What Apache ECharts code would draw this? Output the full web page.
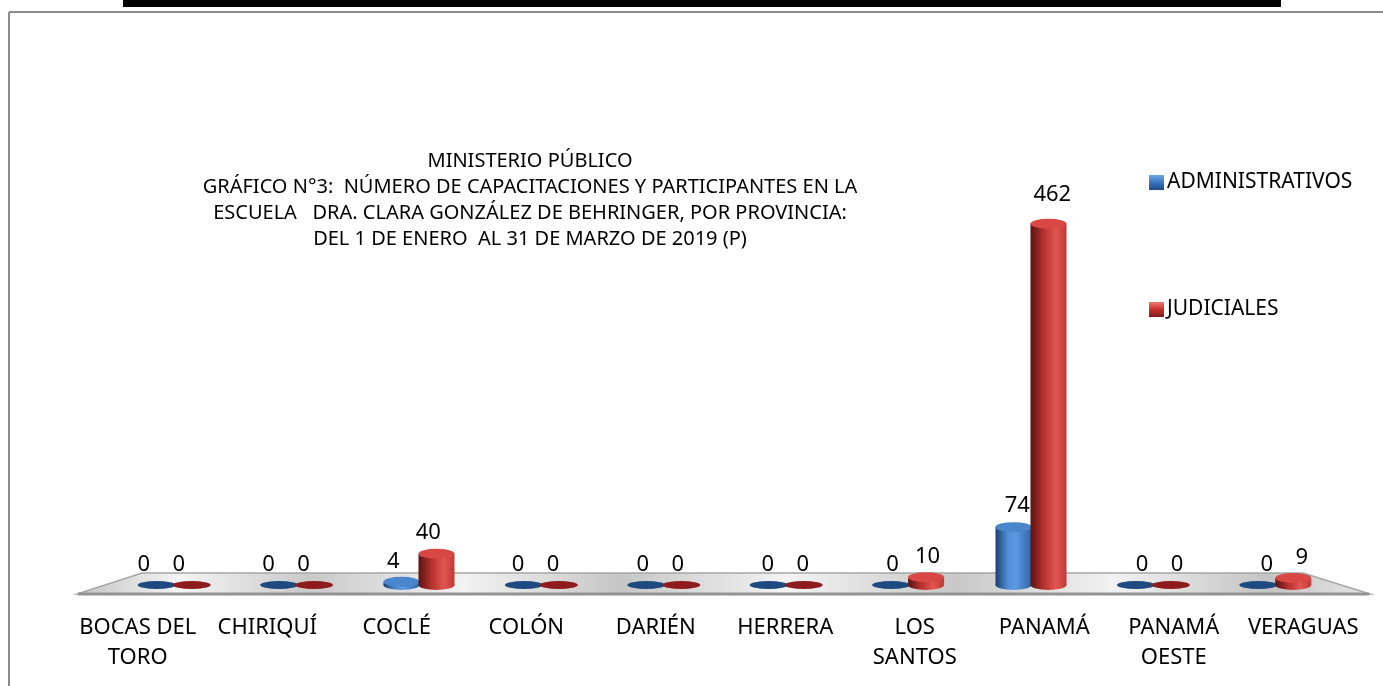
<!DOCTYPE html>
<html>
<head>
<meta charset="utf-8">
<script src="https://cdn.jsdelivr.net/npm/echarts@6/dist/echarts.min.js"></script>
<style>
  html, body { margin: 0; padding: 0; background: #fff; }
  #chart { width: 1383px; height: 686px; }
</style>
</head>
<body>
<div id="chart"></div>
<script>
// provincias
const provincias = ['BOCAS DEL\nTORO', 'CHIRIQUÍ', 'COCLÉ', 'COLÓN', 'DARIÉN', 'HERRERA', 'LOS\nSANTOS', 'PANAMÁ', 'PANAMÁ\nOESTE', 'VERAGUAS'];
const administrativos = [0, 0, 4, 0, 0, 0, 0, 74, 0, 0];
const judiciales = [0, 0, 40, 0, 0, 0, 10, 462, 0, 9];
const titulo = [
  'MINISTERIO PÚBLICO',
  'GRÁFICO N°3:  NÚMERO DE CAPACITACIONES Y PARTICIPANTES EN LA',
  'ESCUELA   DRA. CLARA GONZÁLEZ DE BEHRINGER, POR PROVINCIA:',
  'DEL 1 DE ENERO  AL 31 DE MARZO DE 2019 (P)'
];

const FONT = '"Noto Sans", "Open Sans", sans-serif';
const LG = echarts.graphic.LinearGradient;

// colores del cilindro
const azul = {
  body: [[0, '#1d3f70'], [0.35, '#4f8fd6'], [0.55, '#5d9be0'], [1, '#2f64ac']],
  top: '#4a86cc', cero: '#1f4a80', leg: [[0, '#6fa6e6'], [0.5, '#3a74c0'], [1, '#1f4a86']]
};
const rojo = {
  body: [[0, '#5a1414'], [0.35, '#b3302c'], [0.7, '#e25550'], [1, '#c03a35']],
  top: '#d94844', cero: '#8e1c1c', leg: [[0, '#f07a74'], [0.5, '#c8302c'], [1, '#7e1a1a']]
};

function cilindro(c, lado) {
  return function (params, api) {
    const idx = api.value(0);
    const v = api.value(1);
    const base = api.coord([idx, 0]);
    const top = api.coord([idx, v]);
    const cx = base[0] + lado * 17.5;
    const kids = [];
    if (v > 0) {
      const grad = new LG(0, 0, 1, 0, c.body.map(s => ({ offset: s[0], color: s[1] })));
      kids.push({ type: 'circle', x: cx, y: base[1], scaleY: 5 / 18, shape: { cx: 0, cy: 0, r: 18 }, style: { fill: grad } });
      kids.push({ type: 'rect', shape: { x: cx - 18, y: top[1], width: 36, height: base[1] - top[1] }, style: { fill: grad } });
      kids.push({ type: 'circle', x: cx, y: top[1], scaleY: 5 / 18, shape: { cx: 0, cy: 0, r: 18 }, style: { fill: c.top } });
    } else {
      kids.push({ type: 'circle', x: cx, y: base[1], scaleY: 4 / 19, shape: { cx: 0, cy: 0, r: 19 }, style: { fill: c.cero } });
    }
    // etiqueta con el valor
    kids.push({
      type: 'text', x: cx - 13 + idx * 2.4, y: top[1] - 20 - v * 0.02,
      style: { text: String(v), fill: '#000', font: '22px ' + FONT, align: 'center', verticalAlign: 'middle' }
    });
    return { type: 'group', children: kids };
  };
}

const chart = echarts.init(document.getElementById('chart'));

chart.setOption({
  backgroundColor: '#fff',
  animation: false,
  title: {
    text: titulo.join('\n'),
    left: 525, top: 143,
    textAlign: 'center',
    textStyle: { fontFamily: FONT, fontSize: 20, fontWeight: 'normal', color: '#000', lineHeight: 26 }
  },
  legend: [
    {
      data: ['ADMINISTRATIVOS'], left: 1144, top: 167, itemWidth: 15, itemHeight: 15, icon: 'rect',
      textStyle: { fontFamily: FONT, fontSize: 21, color: '#000', padding: [0, 0, 0, -2] }
    },
    {
      data: ['JUDICIALES'], left: 1144, top: 294, itemWidth: 15, itemHeight: 15, icon: 'rect',
      textStyle: { fontFamily: FONT, fontSize: 21, color: '#000', padding: [0, 0, 0, -2] }
    }
  ],
  graphic: [
    { type: 'line', shape: { x1: 9, y1: 12, x2: 1383, y2: 12 }, style: { stroke: '#8c8c8c', lineWidth: 2 } },
    { type: 'line', shape: { x1: 9, y1: 12, x2: 9, y2: 686 }, style: { stroke: '#8c8c8c', lineWidth: 2 } },
    { type: 'rect', shape: { x: 123, y: 0, width: 1158, height: 7 }, style: { fill: '#000' } },
    {
      type: 'polygon', z: -1,
      shape: { points: [[142, 573], [1303, 573], [1370, 594], [77, 594]] },
      style: {
        fill: new LG(0, 0, 1, 0.15, [
          { offset: 0, color: '#c4c4c4' }, { offset: 0.08, color: '#f4f4f4' },
          { offset: 0.18, color: '#c9c9c9' }, { offset: 0.3, color: '#f2f2f2' },
          { offset: 0.42, color: '#c6c6c6' }, { offset: 0.55, color: '#f3f3f3' },
          { offset: 0.68, color: '#c8c8c8' }, { offset: 0.8, color: '#f2f2f2' },
          { offset: 0.92, color: '#c4c4c4' }, { offset: 1, color: '#e6e6e6' }
        ]),
        stroke: '#a6a6a6', lineWidth: 1.5
      }
    },
    { type: 'line', z: -1, shape: { x1: 78, y1: 594, x2: 1369, y2: 594 }, style: { stroke: '#939393', lineWidth: 3 } }
  ],
  grid: [
    { left: 113, right: 46, top: 194, bottom: 101 },
    { left: 73, right: 15, top: 194, bottom: 86 }
  ],
  xAxis: [
    { type: 'category', gridIndex: 0, data: provincias, show: false },
    {
      type: 'category', gridIndex: 1, data: provincias,
      axisLine: { show: false }, axisTick: { show: false },
      axisLabel: { margin: 13, fontFamily: FONT, fontSize: 22, color: '#000', lineHeight: 30, interval: 0 }
    }
  ],
  yAxis: [
    { type: 'value', gridIndex: 0, min: 0, max: 500, show: false },
    { type: 'value', gridIndex: 1, show: false }
  ],
  series: [
    {
      name: 'ADMINISTRATIVOS', type: 'custom', xAxisIndex: 0, yAxisIndex: 0,
      itemStyle: { color: new LG(0, 0, 0, 1, azul.leg.map(s => ({ offset: s[0], color: s[1] }))) },
      renderItem: cilindro(azul, -1),
      encode: { x: 0, y: 1 },
      data: administrativos.map((v, i) => [i, v])
    },
    {
      name: 'JUDICIALES', type: 'custom', xAxisIndex: 0, yAxisIndex: 0,
      itemStyle: { color: new LG(0, 0, 0, 1, rojo.leg.map(s => ({ offset: s[0], color: s[1] }))) },
      renderItem: cilindro(rojo, 1),
      encode: { x: 0, y: 1 },
      data: judiciales.map((v, i) => [i, v])
    }
  ]
});
</script>
</body>
</html>
